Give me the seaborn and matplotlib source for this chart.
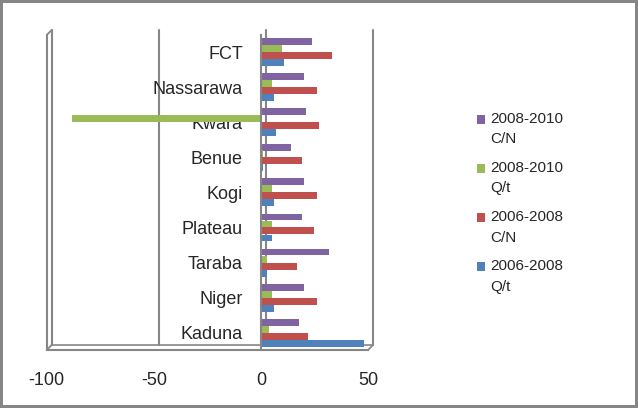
import numpy as np
import pandas as pd
import seaborn as sns
import matplotlib.pyplot as plt
import matplotlib.transforms as mtransforms

# data
states = ["FCT", "Nassarawa", "Kwara", "Benue", "Kogi", "Plateau", "Taraba", "Niger", "Kaduna"]
series_names = ["2008-2010\nC/N", "2008-2010\nQ/t", "2006-2008\nC/N", "2006-2008\nQ/t"]
cn_0810 = [24, 20, 21, 14, 20, 19, 32, 20, 18]
qt_0810 = [10, 5, -88, 1, 5, 5, 3, 5, 4]
cn_0608 = [33, 26, 27, 19, 26, 25, 17, 26, 22]
qt_0608 = [11, 6, 7, 1, 6, 5, 3, 6, 48]
x_ticks = [-100, -50, 0, 50]
colors = ["#8064A2", "#9BBB59", "#C0504D", "#4F81BD"]

df = pd.DataFrame({
    "state": states * 4,
    "series": np.repeat(series_names, len(states)),
    "value": cn_0810 + qt_0810 + cn_0608 + qt_0608,
})

sns.set_style("white")
plt.rcParams["font.family"] = ["Liberation Sans", "DejaVu Sans"]
plt.rcParams["axes.unicode_minus"] = False

W, H = 638, 408
fig = plt.figure(figsize=(W / 100, H / 100), dpi=100)
fig.patch.set_edgecolor("#868686")
fig.patch.set_linewidth(3)

ax = fig.add_axes([46.7 / W, 1 - 350 / H, (368 - 46.7) / W, 315 / H])
sns.barplot(data=df, x="value", y="state", hue="series", order=states,
            hue_order=series_names, palette=colors, orient="h", width=0.8,
            saturation=1, errorbar=None, edgecolor="none", ax=ax)

ax.set_xlim(-100, 50)
ax.set_ylim(len(states) - 0.5, -0.5)
ax.set_xticks(x_ticks)
ax.set_xlabel("")
ax.set_ylabel("")

grey = "#868686"
for s in ["top", "right"]:
    ax.spines[s].set_visible(False)
ax.spines["left"].set_position(("data", 0))
for s in ["left", "bottom"]:
    ax.spines[s].set_color(grey)
    ax.spines[s].set_linewidth(1.5)

ax.tick_params(axis="y", which="major", length=0, labelsize=13, pad=13)
ax.set_yticks(np.arange(-0.5, len(states)), minor=True)
ax.tick_params(axis="y", which="minor", length=5, width=1.5, color=grey, direction="out")
ax.tick_params(axis="x", length=4, width=1.5, color=grey, direction="out", labelsize=13, pad=12)

# pseudo-3D back wall and floor, as in the Excel original
off = mtransforms.ScaledTranslation(0.05, 0.05, fig.dpi_scale_trans)
xt = ax.get_xaxis_transform()
for x in x_ticks:
    ax.plot([x, x], [0, 1], transform=xt + off, color=grey, lw=1.5, clip_on=False, zorder=0)
ax.plot([-100, -100], [0, 1], transform=xt, color=grey, lw=1.5, clip_on=False, zorder=0)
ax.plot([-100, 50], [0, 0], transform=xt + off, color=grey, lw=1.2, clip_on=False, zorder=0)
for x, y in [(-100, 1), (-100, 0), (50, 0)]:
    ax.annotate("", xy=(x, y), xycoords=xt, xytext=(3.6, 3.6), textcoords="offset points",
                arrowprops=dict(arrowstyle="-", color=grey, lw=1.3, shrinkA=0, shrinkB=0))

handles, labels = ax.get_legend_handles_labels()
leg = ax.legend(handles, labels, loc="upper left", bbox_to_anchor=(463 / W, 1 - 98 / H),
                bbox_transform=fig.transFigure, frameon=False, fontsize=11,
                handlelength=0.55, handleheight=0.55, handletextpad=0.35, labelspacing=0.95)
for t in leg.get_texts():
    t.set_linespacing(1.6)
# Excel puts the legend key beside the first line of each label
for h in leg.legend_handles:
    h.set_y(h.get_y() + 7)

fig.savefig("out.png", dpi=100)
